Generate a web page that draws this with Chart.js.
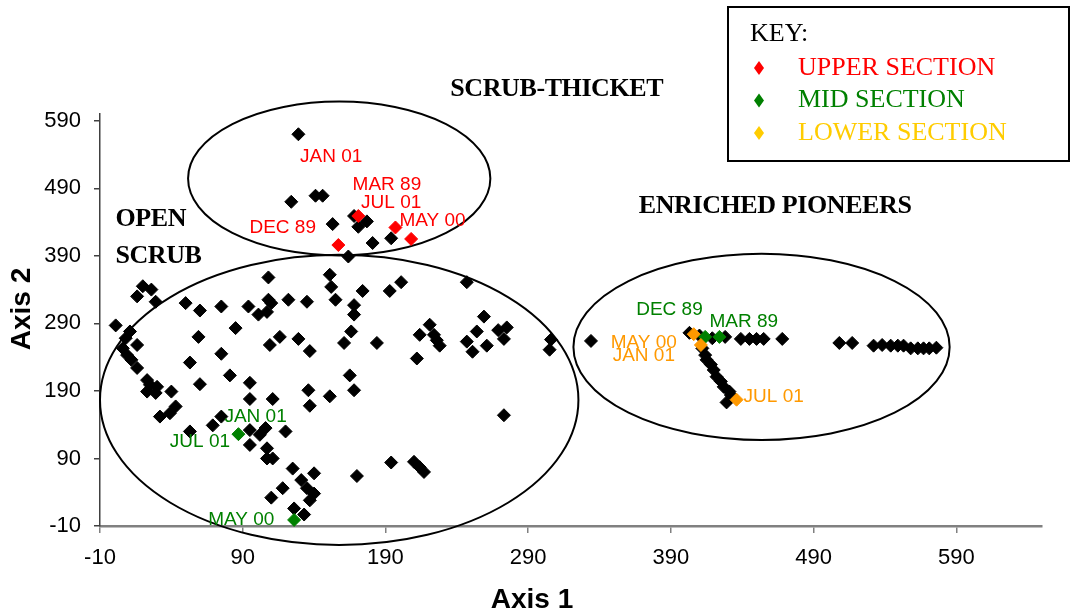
<!DOCTYPE html>
<html><head><meta charset="utf-8">
<script src="https://cdn.jsdelivr.net/npm/chart.js@4/dist/chart.umd.min.js"></script>
<style>html,body{margin:0;padding:0;background:#fff}#wrap{width:1071px;height:616px}</style>
</head><body><div id="wrap"><canvas id="c" width="1071" height="616"></canvas></div>
<script>
// ---- data ----
const tickValues = [-10, 90, 190, 290, 390, 490, 590];

const otherX = [129,124,141,146,153,168,171,177,181,194,164,
  108,151,152,155,20,26,16,29,50,60,75,94,108,110,101,107,122,135,1,
  11,8,16,6,9,12,16,23,25,30,23,29,40,32,43,39,
  59,85,109,116,129,137,75,53,81,60,95,95,111,136,137,151,165,168,161,166,
  174,193,201,247,168,168,184,221,214,224,228,226,212,
  259,254,247,251,261,269,275,273,306,305,273,
  194,210,214,217,170,
  75,69,53,95,95,102,106,120,107,107,111,125,140,131,135,140,137,118,110,126,133,
  334,403,410,419,428,439,445,450,455,468,508,517,532,538,544,549,553,558,563,567,571,576,
  412,414,415,418,420,422,425,427,431,432,429];
const otherY = [570,470,479,479,437,449,433,441,409,416,389,
  358,362,344,325,345,340,330,322,320,309,315,315,325,320,303,307,325,322,287,
  278,268,258,253,243,236,224,206,199,196,189,187,189,152,167,157,
  270,283,258,270,267,249,245,232,213,200,202,178,178,191,168,182,213,191,261,278,
  338,338,351,351,317,303,261,288,273,273,257,265,238,
  300,278,263,248,257,280,284,267,266,251,154,
  84,85,77,70,64,
  152,139,130,132,110,125,135,130,105,90,90,75,68,58,46,38,28,46,32,16,7,
  264,276,272,268,270,267,267,267,267,267,261,261,257,258,257,257,257,253,253,253,253,254,
  253,243,236,229,221,211,204,196,189,184,173];

const upperX = [171,157,197,208];
const upperY = [449,406,432,415];
const midX = [87,126,414,424];
const midY = [126,-1,270,270];
const lowerX = [406,411,436];
const lowerY = [274,258,177];

// point labels (text, anchor x, anchor y)
const upperLabelText = ['JAN 01','MAR 89','JUL 01','MAY 00','DEC 89'];
const upperLabelX = [152,191,194,223,118];
const upperLabelY = [537,495,469,442,432];
const midLabelText = ['JAN 01','JUL 01','MAY 00','DEC 89','MAR 89'];
const midLabelX = [99,60,89,389,441];
const midLabelY = [152,114,-1,310,293];
const lowerLabelText = ['MAY 00','JAN 01','JUL 01'];
const lowerLabelX = [371,371,462];
const lowerLabelY = [261,242,181];

// group titles
const groupText = ['SCRUB-THICKET','OPEN','SCRUB','ENRICHED PIONEERS'];
const groupX = [310,0.8,0.8,463];
const groupY = [637,444,389,464];
const groupAlign = ['center','left','left','center'];

// ellipses: centre x, centre y, radius x, radius y (data units)
const ellipseCX = [157.6,157.6,453.5];
const ellipseCY = [504.5,176.7,255.2];
const ellipseRX = [105.9,167.6,131.8];
const ellipseRY = [114,214.8,137.8];

const keyText = ['UPPER SECTION','MID SECTION','LOWER SECTION'];
const keyColor = ['#ff0000','#008000','#ffcc00'];

const RED='#ff0000', GREEN='#008000', ORANGE='#ff9900';

function pts(xs, ys){ return xs.map((x,i)=>({x:x, y:ys[i]})); }

const ellipsePlugin = {
  id:'ellipses',
  beforeDatasetsDraw(chart){
    const {ctx, scales:{x, y}} = chart;
    ctx.save();
    ctx.strokeStyle='#000'; ctx.lineWidth=2;
    for(let i=0;i<ellipseCX.length;i++){
      const cx=x.getPixelForValue(ellipseCX[i]), cy=y.getPixelForValue(ellipseCY[i]);
      const rx=Math.abs(x.getPixelForValue(ellipseCX[i]+ellipseRX[i])-cx);
      const ry=Math.abs(y.getPixelForValue(ellipseCY[i]+ellipseRY[i])-cy);
      ctx.beginPath(); ctx.ellipse(cx,cy,rx,ry,0,0,Math.PI*2); ctx.stroke();
    }
    ctx.restore();
  }
};

const textPlugin = {
  id:'texts',
  afterDatasetsDraw(chart){
    const {ctx, scales:{x, y}} = chart;
    ctx.save();
    ctx.textBaseline='middle';
    ctx.font='19px "Liberation Sans", Arial, sans-serif';
    ctx.textAlign='center';
    const groups=[[upperLabelText,upperLabelX,upperLabelY,RED],[midLabelText,midLabelX,midLabelY,GREEN],[lowerLabelText,lowerLabelX,lowerLabelY,ORANGE]];
    groups.forEach(([t,xs,ys,c])=>{
      ctx.fillStyle=c;
      t.forEach((s,i)=>ctx.fillText(s,x.getPixelForValue(xs[i]),y.getPixelForValue(ys[i])));
    });
    ctx.fillStyle='#000';
    ctx.font='bold 26px "Liberation Serif", "Times New Roman", serif';
    try{ ctx.letterSpacing='-0.4px'; }catch(e){}
    groupText.forEach((s,i)=>{
      ctx.textAlign=groupAlign[i];
      ctx.fillText(s,x.getPixelForValue(groupX[i]),y.getPixelForValue(groupY[i]));
    });
    ctx.restore();
  },
  afterDraw(chart){
    const {ctx} = chart;
    ctx.save();
    // axis titles
    ctx.fillStyle='#000';
    ctx.font='bold 28px "Liberation Sans", Arial, sans-serif';
    ctx.textAlign='center'; ctx.textBaseline='middle';
    ctx.fillText('Axis 1', 532, 600);
    ctx.translate(22, 309); ctx.rotate(-Math.PI/2);
    ctx.fillText('Axis 2', 0, 0);
    ctx.restore();
    // key box
    ctx.save();
    ctx.fillStyle='#fff';
    ctx.fillRect(728,7,341,154);
    ctx.strokeStyle='#000'; ctx.lineWidth=2;
    ctx.strokeRect(728,7,341,154);
    ctx.font='26px "Liberation Serif", "Times New Roman", serif';
    ctx.textBaseline='middle'; ctx.textAlign='left';
    ctx.fillStyle='#000';
    ctx.fillText('KEY:', 750, 34);
    keyText.forEach((s,i)=>{
      const yy = 68 + i*32.5;
      ctx.fillStyle=keyColor[i];
      ctx.beginPath();
      ctx.moveTo(759,yy-7); ctx.lineTo(764,yy); ctx.lineTo(759,yy+7); ctx.lineTo(754,yy); ctx.closePath(); ctx.fill();
      ctx.fillText(s, 798, yy);
    });
    ctx.restore();
  }
};

const ds = (data,color,order)=>({data, backgroundColor:color, borderColor:color, borderWidth:1, pointStyle:'rectRot', pointRadius:6.5, pointHoverRadius:6.5, order, clip:false});

new Chart(document.getElementById('c'), {
  type:'scatter',
  data:{ datasets:[
    ds(pts(upperX,upperY),RED,1),
    ds(pts(midX,midY),GREEN,2),
    ds(pts(lowerX,lowerY),ORANGE,1),
    ds(pts(otherX,otherY),'#000',5)
  ]},
  options:{
    responsive:false, animation:false, devicePixelRatio:1,
    layout:{padding:{top:114,right:29,left:0,bottom:0}},
    plugins:{legend:{display:false}, tooltip:{enabled:false}},
    scales:{
      x:{type:'linear', min:-10, max:650,
        afterBuildTicks:s=>{s.ticks=tickValues.map(v=>({value:v}));},
        afterFit:s=>{s.height=90;},
        grid:{drawOnChartArea:false, drawTicks:true, tickLength:7, color:'#808080', lineWidth:1.5},
        border:{display:true, color:'#808080', width:2.5},
        ticks:{font:{family:'"Liberation Sans", Arial, sans-serif', size:22}, color:'#000', padding:12, maxRotation:0, autoSkip:false}
      },
      y:{type:'linear', min:-10, max:600,
        afterBuildTicks:s=>{s.ticks=tickValues.map(v=>({value:v}));},
        afterFit:s=>{s.width=100;},
        grid:{drawOnChartArea:false, drawTicks:true, tickLength:6, color:'#404040', lineWidth:1.5},
        border:{display:true, color:'#404040', width:1.5},
        ticks:{font:{family:'"Liberation Sans", Arial, sans-serif', size:22}, color:'#000', padding:13, autoSkip:false}
      }
    }
  },
  plugins:[ellipsePlugin, textPlugin]
});
</script></body></html>
